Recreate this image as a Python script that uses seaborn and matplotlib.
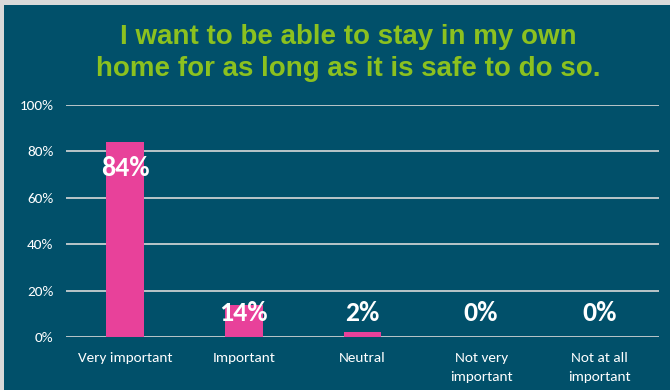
import matplotlib
matplotlib.use("Agg")
import matplotlib.pyplot as plt
import matplotlib.patches as mpatches
import seaborn as sns
import pandas as pd
from matplotlib.ticker import FuncFormatter

categories = ["Very important", "Important", "Neutral", "Not very\nimportant", "Not at all\nimportant"]
values = [84, 14, 2, 0, 0]
value_labels = ["84%", "14%", "2%", "0%", "0%"]
title = "I want to be able to stay in my own\nhome for as long as it is safe to do so."

BG = "#01506A"
PINK = "#E8419A"
GREEN = "#8CC11F"

sns.set_theme(style="white")
plt.rcParams["font.family"] = ["Carlito", "DejaVu Sans"]

fig = plt.figure(figsize=(6.7, 3.9), dpi=100, facecolor=BG)
fig.patches.append(mpatches.Rectangle((0, 1 - 5/390), 1, 5/390, transform=fig.transFigure,
                                      facecolor="#D9D9D9", edgecolor="none", zorder=0))
fig.patches.append(mpatches.Rectangle((0, 0), 4/670, 1, transform=fig.transFigure,
                                      facecolor="#D9D9D9", edgecolor="none", zorder=0))

ax = fig.add_axes([66/670, (390-337)/390, (659-66)/670, (337-105)/390])
ax.set_facecolor(BG)

df = pd.DataFrame({"cat": categories, "val": values})
sns.barplot(data=df, x="cat", y="val", color=PINK, width=0.32, saturation=1,
            linewidth=0, edgecolor=PINK, ax=ax, zorder=3)

ax.set_ylim(0, 100)
ax.set_yticks(range(0, 101, 20))
ax.yaxis.set_major_formatter(FuncFormatter(lambda v, p: f"{int(v)}%"))
ax.grid(axis="y", color="#D9D9D9", linewidth=1.2, zorder=0)
ax.set_axisbelow(True)
for s in ax.spines.values():
    s.set_visible(False)
ax.set_xlabel("")
ax.set_ylabel("")
ax.tick_params(axis="both", length=0, colors="white", labelsize=11)
ax.tick_params(axis="y", pad=9)
ax.tick_params(axis="x", pad=11)
for t in ax.get_xticklabels():
    t.set_linespacing(1.7)

for i, (v, lab) in enumerate(zip(values, value_labels)):
    y = v - 11.2 if v > 30 else 10.3
    ax.text(i, y, lab, ha="center", va="center", color="white",
            fontsize=20, fontweight="bold", zorder=5)

fig.text(348/670, 1 - 53/390, title, ha="center", va="center", color=GREEN,
         fontsize=20, fontweight="bold", family=["Liberation Sans", "DejaVu Sans"],
         linespacing=1.3)

fig.savefig("out.png", dpi=100, facecolor=BG)
